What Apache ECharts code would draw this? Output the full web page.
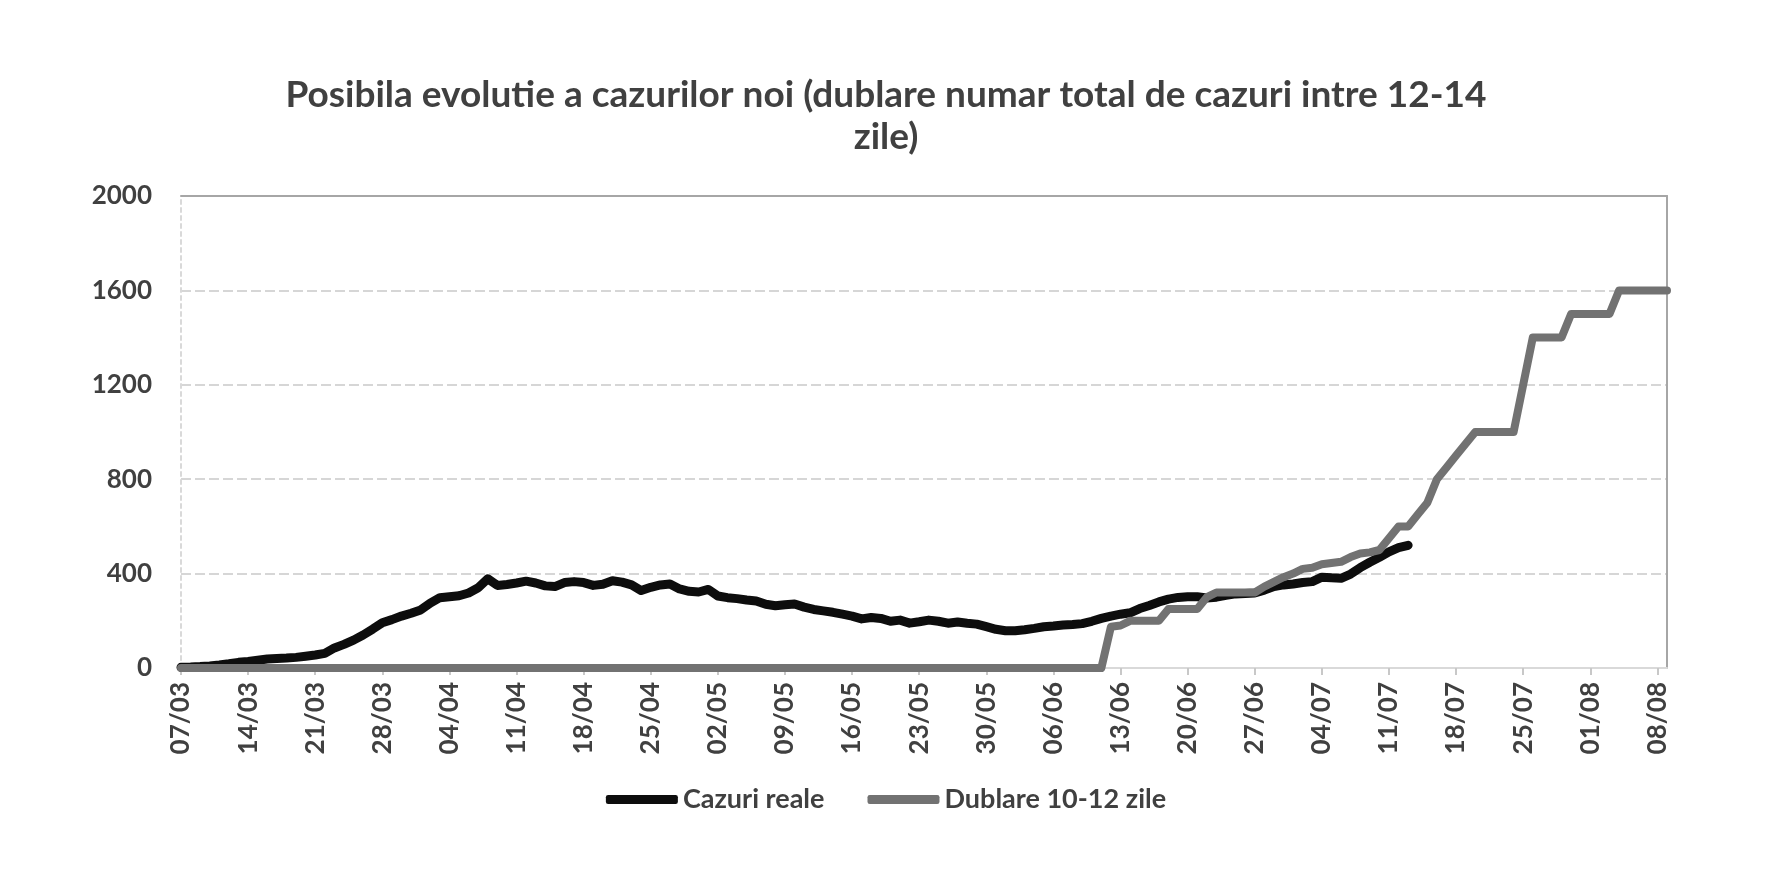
<!DOCTYPE html>
<html>
<head>
<meta charset="utf-8">
<script src="https://cdn.jsdelivr.net/npm/echarts@6/dist/echarts.min.js"></script>
<style>
html, body {margin: 0; padding: 0; background: #fff;}
#main {width: 1772px; height: 873px;}
</style>
</head>
<body>
<div id="main"></div>
<script>
// zile: 07/03 - 09/08
var start_day = new Date(2020, 2, 7)
var days = []
for (var i = 0; i < 156; i++) {
    var d = new Date(start_day.getTime() + i * 86400000)
    days.push(('0' + d.getDate()).slice(-2) + '/' + ('0' + (d.getMonth() + 1)).slice(-2))
}

var y_ticks = [0, 400, 800, 1200, 1600, 2000]

// cazuri noi (medie)
var cazuri_reale = [
    3, 4, 6, 9, 13, 18, 24, 28, 33, 38,
    40, 42, 45, 50, 55, 62, 85, 100, 118, 140,
    165, 192, 205, 220, 232, 246, 275, 298, 302, 306,
    318, 340, 378, 350, 354, 360, 368, 360, 348, 345,
    362, 366, 362, 350, 355, 370, 364, 352, 328, 342,
    352, 356, 335, 325, 322, 333, 305, 298, 294, 288,
    284, 270, 264, 268, 271, 258, 248, 242, 236, 228,
    220, 208, 214, 210, 198, 203, 190, 196, 203, 198,
    190, 195, 190, 186, 175, 164, 158, 158, 162, 168,
    175, 178, 182, 184, 188, 198, 210, 220, 228, 234,
    252, 265, 280, 292, 299, 302, 302, 297, 300, 308,
    314, 316, 318, 330, 345, 352, 356, 362, 366, 385,
    382, 380, 398, 425, 448, 469, 492, 510, 520
]

var dublare = [
    0, 0, 0, 0, 0, 0, 0, 0, 0, 0,
    0, 0, 0, 0, 0, 0, 0, 0, 0, 0,
    0, 0, 0, 0, 0, 0, 0, 0, 0, 0,
    0, 0, 0, 0, 0, 0, 0, 0, 0, 0,
    0, 0, 0, 0, 0, 0, 0, 0, 0, 0,
    0, 0, 0, 0, 0, 0, 0, 0, 0, 0,
    0, 0, 0, 0, 0, 0, 0, 0, 0, 0,
    0, 0, 0, 0, 0, 0, 0, 0, 0, 0,
    0, 0, 0, 0, 0, 0, 0, 0, 0, 0,
    0, 0, 0, 0, 0, 0, 0, 175, 180, 200,
    200, 200, 200, 250, 250, 250, 250, 300, 320, 320,
    320, 320, 320, 345, 365, 385, 400, 420, 425, 440,
    445, 450, 470, 485, 490, 500, 550, 600, 600, 650,
    700, 800, 850, 900, 950, 1000, 1000, 1000, 1000, 1000,
    1200, 1400, 1400, 1400, 1400, 1500, 1500, 1500, 1500, 1500,
    1600, 1600, 1600, 1600, 1600, 1600
]

var font = 'Lato, "Open Sans", sans-serif'
var text_color = '#404040'

var myChart = echarts.init(document.getElementById('main'))

var option = {
    animation: false,
    backgroundColor: '#fff',
    title: {
        text: 'Posibila evolutie a cazurilor noi (dublare numar total de cazuri intre 12-14\nzile)',
        left: 'center',
        top: 69,
        textStyle: {
            fontFamily: font,
            fontSize: 37,
            fontWeight: 'bold',
            color: text_color,
            lineHeight: 42
        }
    },
    legend: {
        top: 781,
        left: 'center',
        icon: 'roundRect',
        itemWidth: 72,
        itemHeight: 9,
        itemGap: 43,
        textStyle: {
            fontFamily: font,
            fontSize: 27,
            fontWeight: 'bold',
            color: text_color
        },
        data: ['Cazuri reale', 'Dublare 10-12 zile']
    },
    grid: {
        left: 181,
        right: 105,
        top: 196,
        bottom: 205
    },
    xAxis: [{
        type: 'category',
        boundaryGap: false,
        data: days,
        axisLine: {lineStyle: {color: '#d9d9d9', width: 2}},
        axisTick: {
            interval: 6,
            length: 7,
            lineStyle: {color: '#c8c8c8', width: 2}
        },
        axisLabel: {
            interval: 6,
            rotate: 90,
            margin: 14,
            fontFamily: font,
            fontSize: 26,
            fontWeight: 'bold',
            color: text_color
        },
        splitLine: {show: false}
    }, {
        // chenarul de sus
        type: 'category',
        position: 'top',
        boundaryGap: false,
        data: days,
        axisLine: {onZero: false, lineStyle: {color: '#a6a6a6', width: 2}},
        axisTick: {show: false},
        axisLabel: {show: false}
    }],
    yAxis: [{
        type: 'value',
        min: y_ticks[0],
        max: y_ticks[y_ticks.length - 1],
        interval: 400,
        axisLine: {show: true, lineStyle: {color: '#d9d9d9', width: 2, type: [4, 4]}},
        axisTick: {show: false},
        axisLabel: {
            margin: 29,
            fontFamily: font,
            fontSize: 26,
            fontWeight: 'bold',
            color: text_color,
            formatter: function (v) { return String(v) }
        },
        splitLine: {
            showMaxLine: false,
            showMinLine: false,
            lineStyle: {color: '#d6d6d6', width: 2, type: [10, 4]}
        }
    }, {
        // chenarul din dreapta
        type: 'value',
        position: 'right',
        min: 0,
        max: 2000,
        interval: 400,
        axisLine: {show: true, onZero: false, lineStyle: {color: '#a6a6a6', width: 2}},
        axisTick: {show: false},
        axisLabel: {show: false},
        splitLine: {show: false}
    }],
    color: ['#0d0d0d', '#727272'],
    series: [{
        name: 'Cazuri reale',
        type: 'line',
        data: cazuri_reale,
        showSymbol: false,
        symbol: 'none',
        lineStyle: {width: 9, color: '#0d0d0d', cap: 'round', join: 'round'}
    }, {
        name: 'Dublare 10-12 zile',
        type: 'line',
        data: dublare,
        showSymbol: false,
        symbol: 'none',
        lineStyle: {width: 8, color: '#727272', cap: 'round', join: 'round'}
    }]
}

myChart.setOption(option)
</script>
</body>
</html>
